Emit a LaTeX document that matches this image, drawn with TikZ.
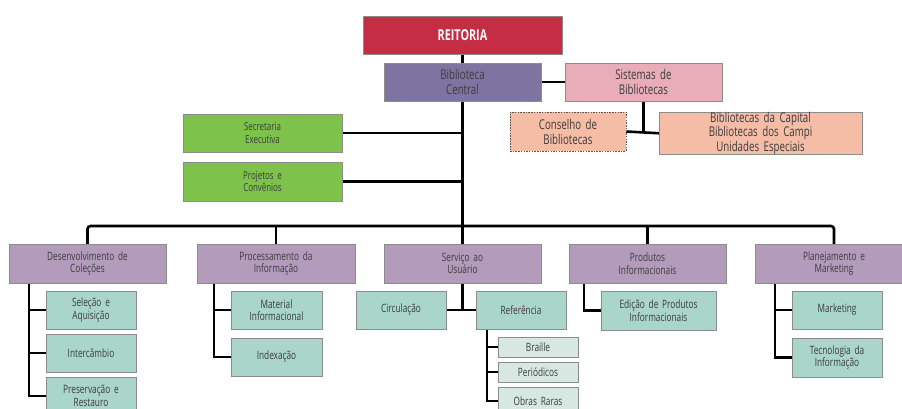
\documentclass[tikz,border=0pt]{standalone}
\usepackage{fontspec}
\setmainfont{Open Sans}[FakeStretch=0.72, WordSpace=0.8]
\usetikzlibrary{backgrounds}
\definecolor{reitcol}{HTML}{C52D45}
\definecolor{centralcol}{HTML}{7E73A1}
\definecolor{sistcol}{HTML}{E9ADB7}
\definecolor{peachcol}{HTML}{F5BCA6}
\definecolor{leafcol}{HTML}{7DC24A}
\definecolor{mauvecol}{HTML}{B39BBB}
\definecolor{tealcol}{HTML}{A9D5CA}
\definecolor{paletealcol}{HTML}{D6E8E1}
\definecolor{txtcol}{HTML}{3C3C3C}
\tikzset{
  box/.style={draw=black!45, line width=0.8pt, outer sep=0pt, inner sep=0pt,
    anchor=north west, align=center, text=txtcol,
    font=\fontsize{11.5}{12.5}\selectfont},
  reitbox/.style={fill=reitcol, text=white, font=\fontsize{15}{17}\selectfont\bfseries},
  centralbox/.style={fill=centralcol, font=\fontsize{13.5}{15}\selectfont},
  sistbox/.style={fill=sistcol, font=\fontsize{13.5}{15}\selectfont},
  peachbox/.style={fill=peachcol, font=\fontsize{13.5}{12.5}\selectfont},
  dashbox/.style={fill=peachcol, draw=black!65, dash pattern=on 1.5pt off 1.2pt, font=\fontsize{13.5}{15}\selectfont},
  leafbox/.style={fill=leafcol, font=\fontsize{11}{12.5}\selectfont},
  deptbox/.style={fill=mauvecol},
  unitbox/.style={fill=tealcol},
  subbox/.style={fill=paletealcol},
  link/.style={line width=2.6pt, black},
}
% \bx{name}{style}{left}{top}{width}{height}{text}
\newcommand\bx[7]{\node[box,#2,minimum width=#5pt,minimum height=#6pt,text width=#5pt-4pt] (#1) at (#3,#4) {#7};}
\begin{document}
\begin{tikzpicture}[x=1pt,y=-1pt]
\useasboundingbox (0,0) rectangle (902,409);
\clip (0,0) rectangle (902,409);

% top of the hierarchy
\bx{reit}{reitbox}{363}{16}{199}{38}{REITORIA}
\bx{central}{centralbox}{384}{63}{157}{38}{Biblioteca\\Central}
\bx{sist}{sistbox}{565}{63}{157}{38}{Sistemas de\\Bibliotecas}
\bx{conselho}{dashbox}{510}{112}{116}{39}{Conselho de\\Bibliotecas}
\bx{capital}{peachbox}{659}{112}{203}{39}{Bibliotecas da Capital\\Bibliotecas dos Campi\\Unidades Especiais}
\bx{secret}{leafbox}{183}{114}{159}{38}{Secretaria\\Executiva}
\bx{proj}{leafbox}{183}{162}{159}{39}{Projetos e\\Convênios}

% departments
\bx{desenv}{deptbox}{9}{244}{157}{39}{Desenvolvimento de\\Coleções}
\bx{proc}{deptbox}{197}{244}{158}{39}{Processamento da\\Informação}
\bx{serv}{deptbox}{384}{244}{157}{39}{Serviço ao\\Usuário}
\bx{prod}{deptbox}{569}{244}{157}{39}{Produtos\\Informacionais}
\bx{plan}{deptbox}{755}{244}{158}{39}{Planejamento e\\Marketing}

% units
\bx{sel}{unitbox}{46}{291}{90}{38}{Seleção e\\Aquisição}
\bx{inter}{unitbox}{46}{334}{90}{38}{Intercâmbio}
\bx{pres}{unitbox}{46}{377}{90}{38}{Preservação e\\Restauro}
\bx{mat}{unitbox}{231}{291}{91}{38}{Material\\Informacional}
\bx{index}{unitbox}{231}{338}{91}{38}{Indexação}
\bx{circ}{unitbox}{356}{291}{90}{38}{Circulação}
\bx{ref}{unitbox}{476}{291}{90}{38}{Referência}
\bx{braille}{subbox}{498}{337}{80}{20}{Braille}
\bx{perio}{subbox}{498}{362}{80}{20}{Periódicos}
\bx{obras}{subbox}{498}{387}{80}{28}{Obras Raras}
\bx{edicao}{unitbox}{601}{291}{115}{39}{Edição de Produtos\\Informacionais}
\bx{mkt}{unitbox}{792}{291}{90}{38}{Marketing}
\bx{tec}{unitbox}{792}{338}{90}{39}{Tecnologia da\\Informação}

\begin{scope}[on background layer]
% main trunk and bus
\coordinate (bus) at (0,226);
\draw[link] (reit.south) -- (central.north);
\draw[link] (central.east) -- (sist.west);
\draw[link] (central.south) -- (serv.north);
\draw[link] (secret.east) -- (secret.east -| central.south);
\draw[link] (proj.east) -- (proj.east -| central.south);
\draw[link] (sist.south) -- (sist.south |- capital.west);
\draw[link] (conselho.east) -- (capital.west);
\draw[link, rounded corners=3pt] (desenv.north) |- (bus -| plan.north) -- (plan.north);
\draw[link] (proc.north) -- (proc.north |- bus);
\draw[link] (prod.north) -- (prod.north |- bus);

% department branches
\coordinate (dsp) at (29,283);
\draw[link] (dsp) |- (pres.west);
\draw[link] (dsp |- sel.west) -- (sel.west);
\draw[link] (dsp |- inter.west) -- (inter.west);

\coordinate (psp) at (214,283);
\draw[link] (psp) |- (index.west);
\draw[link] (psp |- mat.west) -- (mat.west);

\draw[link] (serv.south) -- (serv.south |- circ.east);
\draw[link] (circ.east) -- (ref.west);

\coordinate (rsp) at (487,329);
\draw[link] (rsp) |- (obras.west);
\draw[link] (rsp |- braille.west) -- (braille.west);
\draw[link] (rsp |- perio.west) -- (perio.west);

\coordinate (esp) at (584,283);
\draw[link] (esp) |- (edicao.west);

\coordinate (msp) at (775,283);
\draw[link] (msp) |- (tec.west);
\draw[link] (msp |- mkt.west) -- (mkt.west);
\end{scope}
\end{tikzpicture}
\end{document}
